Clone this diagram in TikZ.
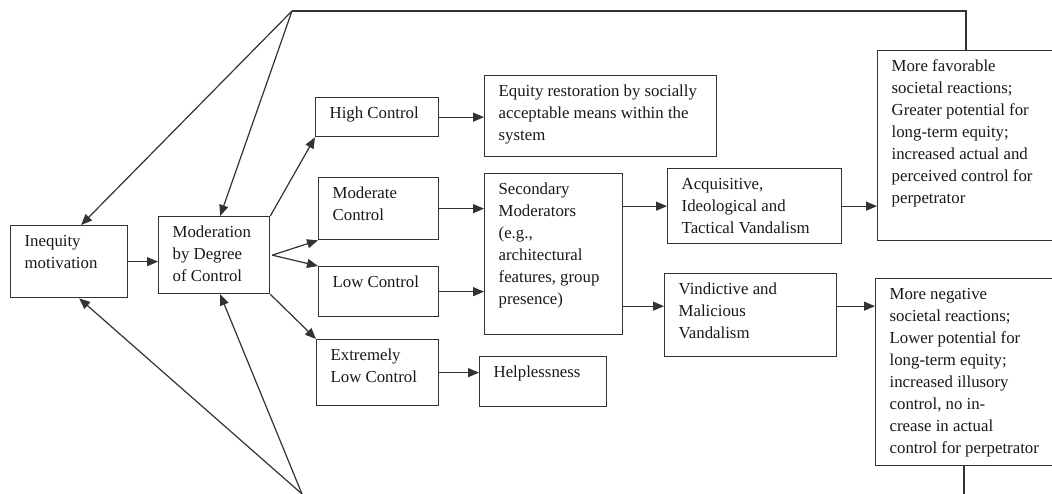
\documentclass[tikz,border=0pt]{standalone}
\usepackage{fontspec}
\setmainfont{Liberation Serif}
\usetikzlibrary{arrows.meta}
\newcommand{\boxtext}[3]{\parbox[c][#2][t]{#1}{\raggedright\leftskip=14pt\rule{0pt}{20.5pt}#3}}
\begin{document}
\begin{tikzpicture}[x=1pt,y=-1pt,
  box/.style={draw=black!80,line width=1.3pt,anchor=north west,inner sep=0pt,text=black!90,
    font=\fontsize{16.8}{22}\selectfont},
  ar/.style={-{Triangle[length=11pt,width=9pt]},line width=1.2pt,draw=black!80},
  ln/.style={line width=1.2pt,draw=black!80}]
\useasboundingbox[fill=white] (0,0) rectangle (1052,494);
\node[box] (inq) at (10,225) {\boxtext{117pt}{72pt}{Inequity\\motivation}};
\node[box] (mod) at (158,216) {\boxtext{111pt}{77pt}{Moderation\\by Degree\\of Control}};
\node[box] (hi) at (315,97) {\boxtext{123pt}{39pt}{High Control}};
\node[box] (mdc) at (318,177) {\boxtext{120pt}{62pt}{Moderate\\Control}};
\node[box] (low) at (318,266) {\boxtext{120pt}{50pt}{Low Control}};
\node[box] (ext) at (316,339) {\boxtext{122pt}{66pt}{Extremely\\Low Control}};
\node[box] (eq) at (484,75) {\boxtext{232pt}{81pt}{Equity restoration by socially\\acceptable means within the\\system}};
\node[box] (sec) at (484,173) {\boxtext{138pt}{161pt}{Secondary\\Moderators\\(e.g.,\\architectural\\features, group\\presence)}};
\node[box] (help) at (479,356) {\boxtext{127pt}{50pt}{Helplessness}};
\node[box] (acq) at (667,168) {\boxtext{174pt}{75pt}{Acquisitive,\\Ideological and\\Tactical Vandalism}};
\node[box] (vin) at (664,273) {\boxtext{172pt}{83pt}{Vindictive and\\Malicious\\Vandalism}};
\node[box] (fav) at (877,50) {\boxtext{190pt}{190pt}{More favorable\\societal reactions;\\Greater potential for\\long-term equity;\\increased actual and\\perceived control for\\perpetrator}};
\node[box] (neg) at (875,278) {\boxtext{192pt}{187pt}{More negative\\societal reactions;\\Lower potential for\\long-term equity;\\increased illusory\\control, no in-\\crease in actual\\control for perpetrator}};
\coordinate (top) at (292,11);
\coordinate (tr) at (966,11);
\coordinate (bot) at (302,494);
\coordinate (br) at (964,494);
\draw[ln] (fav.north -| tr) -- (tr) -- (top);
\draw[ln] (neg.south -| br) -- (br);
\draw[ar] (top) -- ([xshift=12pt]inq.north);
\draw[ar] (top) -- ([xshift=6pt]mod.north);
\draw[ar] (bot) -- ([xshift=10pt]inq.south);
\draw[ar] (bot) -- ([xshift=6pt]mod.south);
\draw[ar] (inq.east) -- (inq.east -| mod.west);
\draw[ar] (mod.north east) -- (hi.south west);
\draw[ar] ([xshift=2pt]mod.east) -- (mdc.south west);
\draw[ar] ([xshift=2pt]mod.east) -- (low.north west);
\draw[ar] (mod.south east) -- (ext.north west);
\draw[ar] (hi.east) -- (hi.east -| eq.west);
\draw[ar] (mdc.east) -- (mdc.east -| sec.west);
\draw[ar] (low.east) -- (low.east -| sec.west);
\draw[ar] (ext.east) -- (ext.east -| help.west);
\draw[ar] (acq.west -| sec.east) -- (acq.west);
\draw[ar] ([yshift=9pt]vin.west -| sec.east) -- ([yshift=9pt]vin.west);
\draw[ar] (acq.east) -- (acq.east -| fav.west);
\draw[ar] ([yshift=9pt]vin.east) -- ([yshift=9pt]vin.east -| neg.west);
\end{tikzpicture}
\end{document}
